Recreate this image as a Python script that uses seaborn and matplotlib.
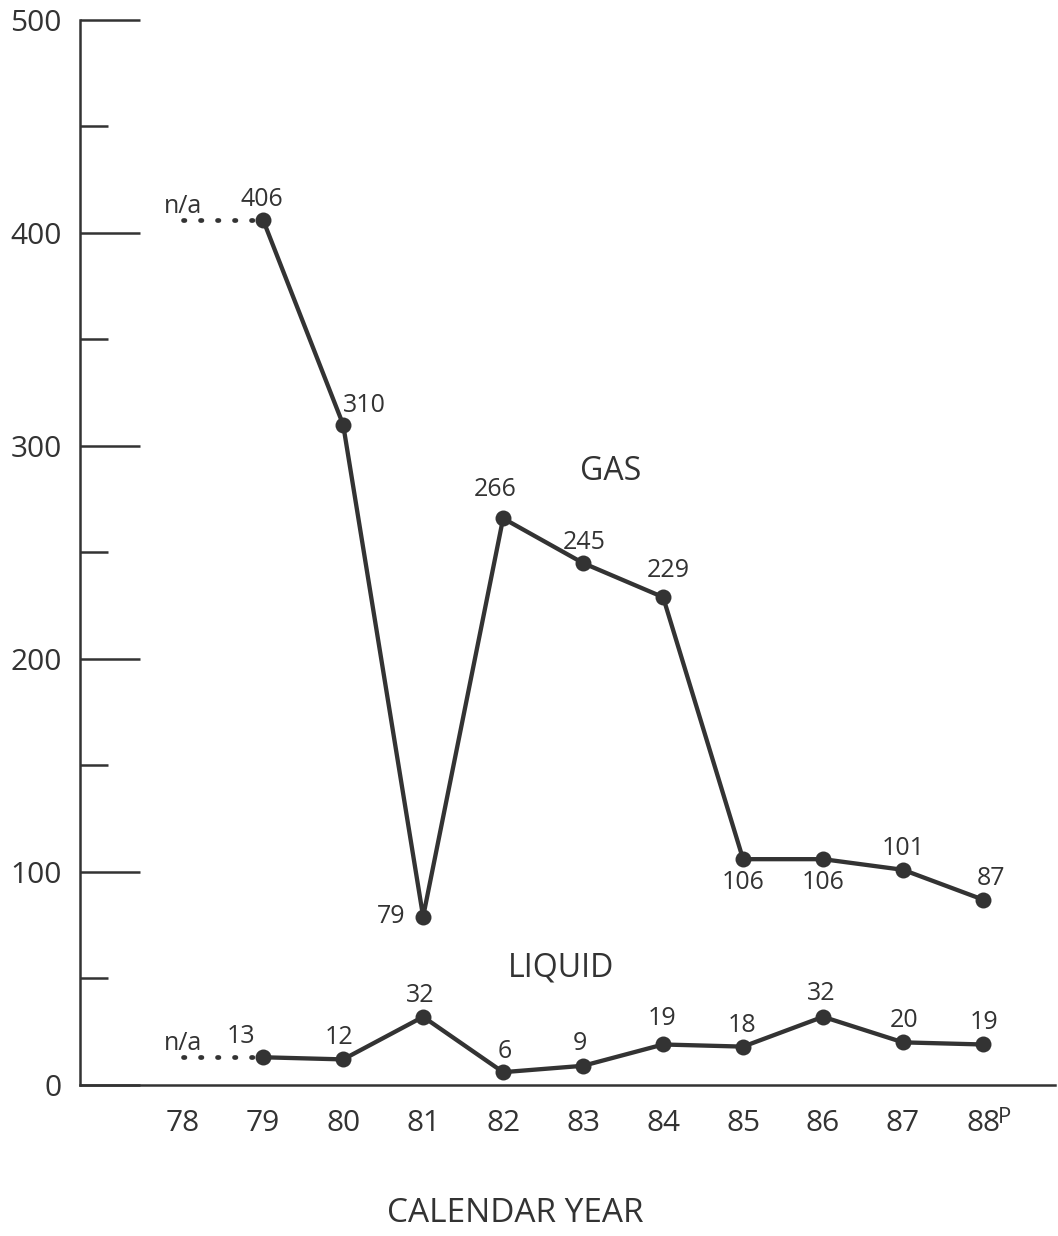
"""
Gas and liquid line chart by calendar year (78 - 88P).
"""

import numpy as np
import pandas as pd
import matplotlib
matplotlib.use("Agg")
import matplotlib.pyplot as plt
import seaborn as sns

YEARS = [78, 79, 80, 81, 82, 83, 84, 85, 86, 87, 88]
YEAR_LABELS = ["78", "79", "80", "81", "82", "83", "84", "85", "86", "87", "88"]
GAS = [np.nan, 406, 310, 79, 266, 245, 229, 106, 106, 101, 87]
LIQUID = [np.nan, 13, 12, 32, 6, 9, 19, 18, 32, 20, 19]
Y_TICKS = [0, 100, 200, 300, 400, 500]
Y_MINOR = [50, 150, 250, 350, 450]

# label offsets (points) for each value annotation
GAS_OFFSETS = [None, (-1, 15), (15, 14), (-23, 0), (-6, 21), (1, 15),
               (4, 19), (0, -17), (0, -17), (0, 15), (6, 15)]
LIQ_OFFSETS = [None, (-16, 15), (-3, 16), (-2, 15), (1, 15), (-2, 16),
               (-1, 19), (-1, 15), (-1, 17), (1, 16), (1, 16)]

INK = "#333333"


def draw_series(ax, values, offsets):
    df = pd.DataFrame({"year": YEARS, "value": values}).dropna()
    sns.lineplot(data=df, x="year", y="value", color=INK, lw=3.1,
                 marker="o", markersize=11.5, markeredgewidth=0, ax=ax)
    # dotted n/a stretch from the first year to the first known value
    first = df.iloc[0]
    ax.plot([YEARS[0], first["year"] - 0.1], [first["value"]] * 2,
            color=INK, lw=3.4, linestyle=(0, (0.3, 3.3)), dash_capstyle="round")
    ax.annotate("n/a", xy=(YEARS[0], first["value"]), xytext=(0, 10),
                textcoords="offset points", ha="center", va="center",
                fontsize=18, color=INK)
    for yr, v, off in zip(YEARS, values, offsets):
        if off is None or np.isnan(v):
            continue
        ax.annotate(f"{v:g}", xy=(yr, v), xytext=off, textcoords="offset points",
                    ha="center", va="center", fontsize=18, color=INK)


def main():
    sns.set_style("ticks")
    plt.rcParams["font.family"] = ["Open Sans", "DejaVu Sans"]

    fig = plt.figure(figsize=(10.58, 12.36), dpi=100)
    ax = fig.add_axes([0.0756, 0.1222, 0.9216, 0.8617])

    draw_series(ax, GAS, GAS_OFFSETS)
    draw_series(ax, LIQUID, LIQ_OFFSETS)

    ax.set_xlim(76.71, 88.9)
    ax.set_ylim(0, 500)
    ax.set_xticks(YEARS)
    ax.set_xticklabels(YEAR_LABELS)
    ax.set_yticks(Y_TICKS)
    ax.set_yticks(Y_MINOR, minor=True)
    ax.set_xlabel("")
    ax.set_ylabel("")

    sns.despine(ax=ax)
    for side in ["left", "bottom"]:
        ax.spines[side].set_color(INK)
        ax.spines[side].set_linewidth(1.8)

    ax.tick_params(axis="y", which="major", direction="in", length=43, width=1.8,
                   pad=13, color=INK, labelcolor=INK, labelsize=21.5)
    ax.tick_params(axis="y", which="minor", direction="in", length=20, width=1.8,
                   color=INK)
    ax.tick_params(axis="x", length=0, pad=17, labelcolor=INK, labelsize=21.5)

    # preliminary marker on the last year
    ax.annotate("P", xy=(YEARS[-1], 0), xycoords=("data", "axes fraction"),
                xytext=(11, -16), textcoords="offset points", ha="left", va="top",
                fontsize=16, color=INK)

    ax.text(83.34, 288, "GAS", ha="center", va="center", fontsize=23, color=INK)
    ax.text(82.72, 55, "LIQUID", ha="center", va="center", fontsize=23, color=INK)
    fig.text(515 / 1058, 1 - 1213 / 1236, "CALENDAR YEAR", ha="center",
             va="center", fontsize=24, color=INK)

    fig.savefig("out.png", dpi=100)
    plt.close(fig)


if __name__ == "__main__":
    main()
